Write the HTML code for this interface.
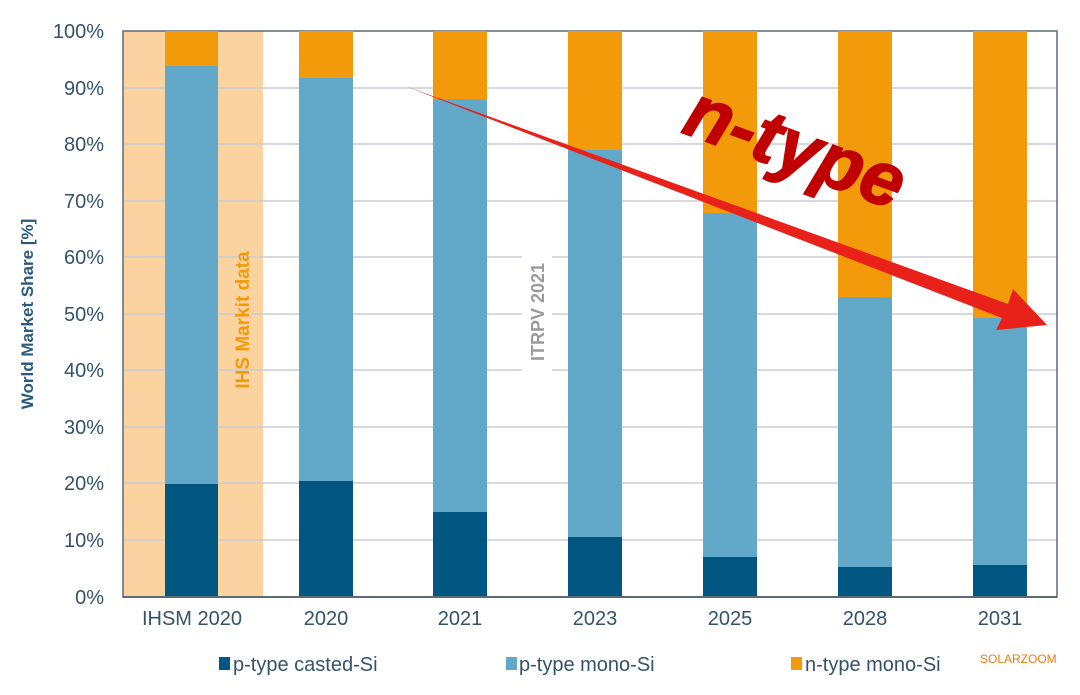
<!DOCTYPE html>
<html><head><style>
html,body{margin:0;padding:0;background:#fff;}
svg{display:block;}
text{font-family:"Liberation Sans",sans-serif;}
</style></head><body>
<svg width="1080" height="695" xmlns="http://www.w3.org/2000/svg">
<rect x="123" y="31" width="140" height="566" fill="#fad3a1"/>
<g stroke="#c9ced6" stroke-width="1.5">
<line x1="123" y1="88" x2="1057" y2="88"/><line x1="123" y1="144" x2="1057" y2="144"/>
<line x1="123" y1="201" x2="1057" y2="201"/><line x1="123" y1="257" x2="1057" y2="257"/>
<line x1="123" y1="314" x2="1057" y2="314"/><line x1="123" y1="370" x2="1057" y2="370"/>
<line x1="123" y1="427" x2="1057" y2="427"/><line x1="123" y1="483" x2="1057" y2="483"/>
<line x1="123" y1="540" x2="1057" y2="540"/>
</g>
<rect x="123" y="31" width="934" height="566" fill="none" stroke="#5a6b7a" stroke-width="1.5"/>
<g>
<rect x="165" y="31" width="53" height="35" fill="#f39a0a"/><rect x="165" y="66" width="53" height="418" fill="#62a8c9"/><rect x="165" y="484" width="53" height="113" fill="#015781"/>
<rect x="299" y="31" width="54" height="47" fill="#f39a0a"/><rect x="299" y="78" width="54" height="403" fill="#62a8c9"/><rect x="299" y="481" width="54" height="116" fill="#015781"/>
<rect x="433" y="31" width="54" height="68" fill="#f39a0a"/><rect x="433" y="99" width="54" height="413" fill="#62a8c9"/><rect x="433" y="512" width="54" height="85" fill="#015781"/>
<rect x="568" y="31" width="54" height="119" fill="#f39a0a"/><rect x="568" y="150" width="54" height="387" fill="#62a8c9"/><rect x="568" y="537" width="54" height="60" fill="#015781"/>
<rect x="703" y="31" width="54" height="182" fill="#f39a0a"/><rect x="703" y="213" width="54" height="344" fill="#62a8c9"/><rect x="703" y="557" width="54" height="40" fill="#015781"/>
<rect x="838" y="31" width="54" height="266" fill="#f39a0a"/><rect x="838" y="297" width="54" height="270" fill="#62a8c9"/><rect x="838" y="567" width="54" height="30" fill="#015781"/>
<rect x="973" y="31" width="54" height="287" fill="#f39a0a"/><rect x="973" y="318" width="54" height="247" fill="#62a8c9"/><rect x="973" y="565" width="54" height="32" fill="#015781"/>
</g>
<line x1="123" y1="597" x2="1057" y2="597" stroke="#5a6b7a" stroke-width="2"/>
<g fill="#34526b" font-size="20" text-anchor="end">
<text x="104" y="38">100%</text><text x="104" y="95">90%</text><text x="104" y="151">80%</text>
<text x="104" y="208">70%</text><text x="104" y="264">60%</text><text x="104" y="321">50%</text>
<text x="104" y="377">40%</text><text x="104" y="434">30%</text><text x="104" y="490">20%</text>
<text x="104" y="547">10%</text><text x="104" y="604">0%</text>
</g>
<g fill="#34526b" font-size="20" text-anchor="middle">
<text x="192" y="625">IHSM 2020</text><text x="326" y="625">2020</text><text x="460" y="625">2021</text>
<text x="595" y="625">2023</text><text x="730" y="625">2025</text><text x="865" y="625">2028</text><text x="1000" y="625">2031</text>
</g>
<text transform="translate(33,314) rotate(-90)" text-anchor="middle" fill="#2c5a7d" font-size="17" font-weight="bold">World Market Share [%]</text>
<text transform="translate(249,320) rotate(-90)" text-anchor="middle" fill="#f39a0a" font-size="19" font-weight="bold">IHS Markit data</text>
<rect x="522" y="245" width="30" height="135" fill="#fff"/>
<text transform="translate(544,312) rotate(-90)" text-anchor="middle" fill="#9a9a9a" font-size="18" font-weight="bold">ITRPV 2021</text>
<polygon points="405,86 1002,318 996,330 1047,325 1013,289 1008,304" fill="#e8211b"/>
<text transform="translate(680,132) rotate(20)" fill="#c00000" font-size="76" font-weight="bold" font-style="italic" stroke="#c00000" stroke-width="1.5">n-type</text>
<g font-size="20" fill="#34526b">
<rect x="219" y="657" width="11" height="13" fill="#015781"/><text x="233" y="671">p-type casted-Si</text>
<rect x="506" y="657" width="11" height="13" fill="#62a8c9"/><text x="519" y="671">p-type mono-Si</text>
<rect x="791" y="657" width="11" height="13" fill="#f39a0a"/><text x="805" y="671">n-type mono-Si</text>
</g>
<text x="980" y="663" fill="#f07a10" font-size="12" font-family="Liberation Mono,monospace">SOLARZOOM</text>
</svg>
</body></html>
